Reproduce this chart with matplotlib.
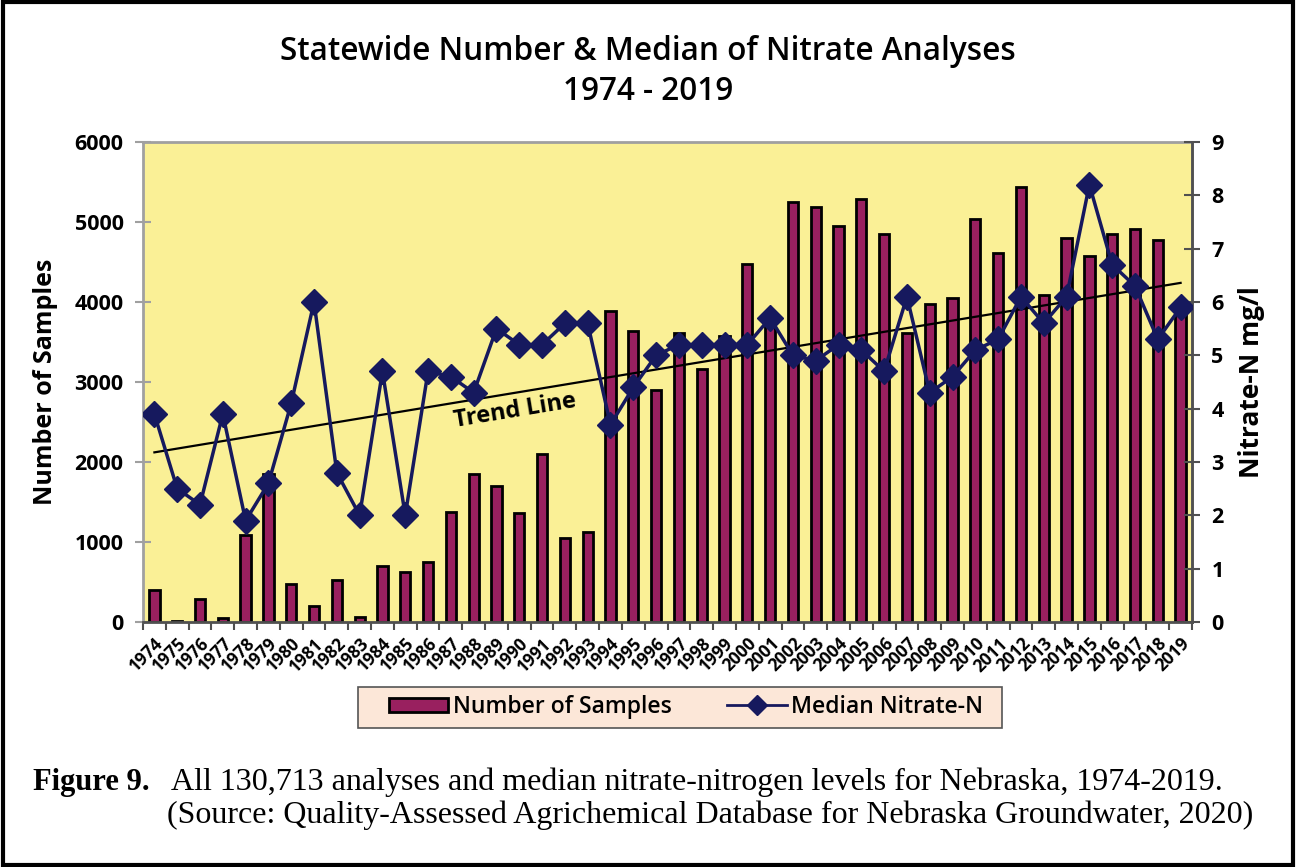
import numpy as np
import matplotlib
matplotlib.use("Agg")
import matplotlib.pyplot as plt
from matplotlib.patches import Rectangle, Patch
from matplotlib.lines import Line2D

years = [str(y) for y in range(1974, 2020)]
samples = [395, 10, 287, 45, 1086, 1848, 479, 200, 524, 67,
           699, 620, 745, 1373, 1856, 1702, 1365, 2097, 1053, 1128,
           3883, 3633, 2896, 3610, 3158, 3575, 4478, 3750, 5256, 5193,
           4948, 5285, 4852, 3612, 3978, 4053, 5040, 4611, 5439, 4091,
           4802, 4578, 4848, 4915, 4773, 3900]
median_n = [3.9, 2.5, 2.2, 3.9, 1.9, 2.6, 4.1, 6.0, 2.8, 2.0,
            4.7, 2.0, 4.7, 4.6, 4.3, 5.5, 5.2, 5.2, 5.6, 5.6,
            3.7, 4.4, 5.0, 5.2, 5.2, 5.2, 5.2, 5.7, 5.0, 4.9,
            5.2, 5.1, 4.7, 6.1, 4.3, 4.6, 5.1, 5.3, 6.1, 5.6,
            6.1, 8.2, 6.7, 6.3, 5.3, 5.9]

font = "Open Sans"
bar_col = "#99205F"
line_col = "#16195E"
bg_col = "#FAF096"
spine_light = "#A0A0A0"
spine_dark = "#505050"

x = np.arange(len(years))

fig = plt.figure(figsize=(12.96, 8.67), dpi=100)
ax = fig.add_axes([143/1296, 1-622/867, (1192-143)/1296, (622-142)/867])
ax.set_facecolor(bg_col)
ax.bar(x, samples, width=0.45, color=bar_col, edgecolor="black", linewidth=2, zorder=2)
ax.set_xlim(-0.5, len(years)-0.5)
ax.set_ylim(0, 6000)
ax.set_yticks(range(0, 6001, 1000))
ax.set_yticklabels([str(v) for v in range(0, 6001, 1000)], fontsize=15.5, fontweight="bold", family=font)
ax.set_ylabel("Number of Samples", fontsize=18, fontweight="bold", family=font, labelpad=12)

# category boundaries as ticks, labels in the middle
ax.set_xticks(np.arange(-0.5, len(years)), minor=False)
ax.set_xticklabels([])
ax.set_xticks(x, minor=True)
ax.set_xticklabels(years, minor=True, rotation=45, ha="right", rotation_mode="anchor",
                   fontsize=12.5, fontweight="bold", family=font)
ax.tick_params(axis="x", which="major", length=6, color=spine_dark, width=1.5)
ax.tick_params(axis="x", which="minor", length=0, pad=9)
ax.tick_params(axis="y", direction="inout", length=12, color=spine_light, width=1.5, pad=8)
for s in ax.spines.values():
    s.set_color(spine_light)
    s.set_linewidth(2)
ax.spines["bottom"].set_color(spine_dark)

ax2 = ax.twinx()
ax2.plot(x, median_n, color=line_col, linewidth=2.5, marker="D", markersize=13,
         markerfacecolor=line_col, markeredgecolor=line_col, zorder=3)
coef = np.polyfit(x, median_n, 1)
ax2.plot([x[0], x[-1]], np.polyval(coef, [x[0], x[-1]]), color="black", linewidth=1.6, zorder=2)
ax2.set_ylim(0, 9)
ax2.set_yticks(range(0, 10))
ax2.set_yticklabels([str(v) for v in range(0, 10)], fontsize=15.5, fontweight="bold", family=font)
ax2.set_ylabel("Nitrate-N mg/l", fontsize=19, fontweight="bold", family=font, labelpad=10)
ax2.tick_params(axis="y", direction="inout", length=12, color=spine_dark, width=1.5, pad=8)
for s in ax2.spines.values():
    s.set_visible(False)
ax2.spines["right"].set_visible(True)
ax2.spines["right"].set_color(spine_dark)
ax2.spines["right"].set_linewidth(2)
ax2.text(15.8, 3.95, "Trend Line", rotation=9.4, fontsize=17, fontweight="bold",
         family=font, ha="center", va="center")

fig.text(0.5, 1-52/867, "Statewide Number & Median of Nitrate Analyses", ha="center", va="center",
         fontsize=22.7, fontweight="semibold", family=font)
fig.text(0.5, 1-92/867, "1974 - 2019", ha="center", va="center",
         fontsize=22.7, fontweight="semibold", family=font)

# legend box drawn separately so it can be wider than the entries
fig.patches.append(Rectangle((358/1296, 1-728/867), (1002-358)/1296, 41/867, transform=fig.transFigure,
                             facecolor="#FCE7D8", edgecolor="#555555", linewidth=1.2, zorder=1))
handles = [Patch(facecolor=bar_col, edgecolor="black", linewidth=2),
           Line2D([], [], color=line_col, linewidth=2, marker="D", markersize=10)]
leg = fig.legend(handles, ["Number of Samples", "Median Nitrate-N"], loc="center",
                 bbox_to_anchor=(686/1296, 1-707/867), ncol=2, frameon=False,
                 prop={"family": font, "size": 16.5, "weight": "semibold"},
                 handlelength=2.6, handleheight=0.6, columnspacing=2.4, handletextpad=0.2,
                 borderpad=0.2, borderaxespad=0)

serif = "Liberation Serif"
fig.text(33/1296, 1-790/867, "Figure 9.", fontsize=22, fontweight="bold", family=serif, va="baseline")
fig.text(171/1296, 1-790/867, "All 130,713 analyses and median nitrate-nitrogen levels for Nebraska, 1974-2019.",
         fontsize=23, family=serif, va="baseline")
fig.text(167/1296, 1-823/867, "(Source: Quality-Assessed Agrichemical Database for Nebraska Groundwater, 2020)",
         fontsize=23, family=serif, va="baseline")

fig.patches.append(Rectangle((0.002, 0.002), 0.996, 0.996, transform=fig.transFigure,
                             fill=False, edgecolor="black", linewidth=3))

fig.savefig("out.png", dpi=100)
